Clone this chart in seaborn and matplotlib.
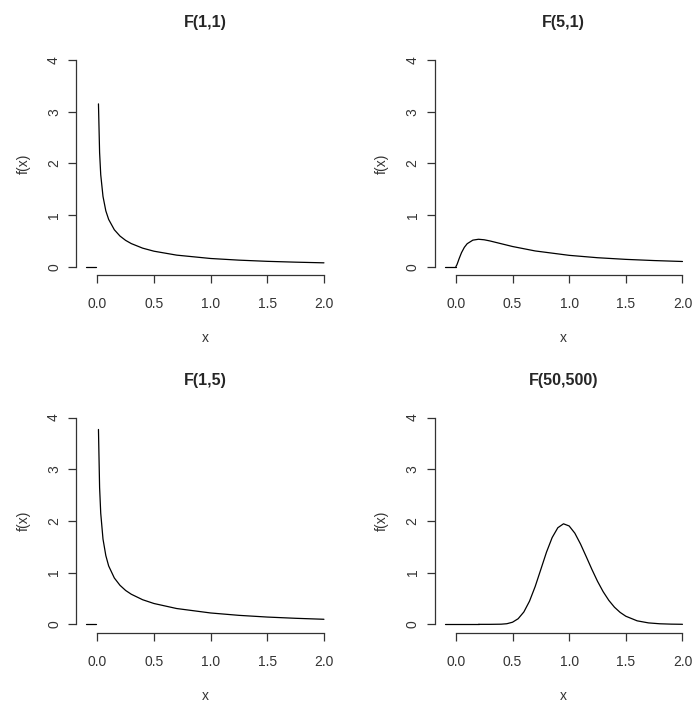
import pandas as pd
import matplotlib
matplotlib.use('Agg')
import matplotlib.pyplot as plt
import seaborn as sns

# values
titles = ['F(1,1)', 'F(5,1)', 'F(1,5)', 'F(50,500)']

x_tail = [0.01, 0.02, 0.03, 0.05, 0.075, 0.1, 0.15, 0.2, 0.25, 0.3, 0.4,
          0.5, 0.7, 1.0, 1.25, 1.5, 1.75, 2.0]
f_1_1 = [3.15, 2.21, 1.78, 1.36, 1.08, 0.915, 0.715, 0.593, 0.509, 0.447, 0.359,
         0.300, 0.224, 0.159, 0.127, 0.104, 0.088, 0.075]
f_1_5 = [3.77, 2.65, 2.15, 1.65, 1.33, 1.13, 0.897, 0.755, 0.655, 0.582, 0.476,
         0.403, 0.306, 0.220, 0.174, 0.141, 0.117, 0.098]
f_5_1 = [0.041, 0.101, 0.162, 0.272, 0.375, 0.445, 0.514, 0.531, 0.521, 0.499, 0.445,
         0.391, 0.305, 0.220, 0.174, 0.142, 0.119, 0.101]

x_bell = [0.3, 0.4, 0.45, 0.5, 0.55, 0.6, 0.65, 0.7, 0.75, 0.8, 0.85, 0.9, 0.95,
          1.0, 1.05, 1.1, 1.15, 1.2, 1.25, 1.3, 1.35, 1.4, 1.45, 1.5, 1.6, 1.7,
          1.8, 1.9, 2.0]
f_50_500 = [0.0, 0.003, 0.012, 0.041, 0.109, 0.239, 0.448, 0.731, 1.063, 1.397,
            1.679, 1.869, 1.945, 1.903, 1.764, 1.555, 1.313, 1.066, 0.834, 0.632,
            0.464, 0.331, 0.231, 0.157, 0.068, 0.028, 0.011, 0.004, 0.001]

# left piece below zero (density is 0 there)
x_left = [-0.1, -0.01]
f_left = [0.0, 0.0]


def make_df(panel):
    if panel in ('F(1,1)', 'F(1,5)'):
        ys = f_1_1 if panel == 'F(1,1)' else f_1_5
        d1 = pd.DataFrame({'x': x_left, 'y': f_left, 'seg': 0})
        d2 = pd.DataFrame({'x': x_tail, 'y': ys, 'seg': 1})
    elif panel == 'F(5,1)':
        d1 = pd.DataFrame({'x': x_left + [0.0], 'y': f_left + [0.0], 'seg': 0})
        d2 = pd.DataFrame({'x': [0.0] + x_tail, 'y': [0.0] + f_5_1, 'seg': 1})
    else:
        d1 = pd.DataFrame({'x': x_left + [0.0, 0.2], 'y': f_left + [0.0, 0.0], 'seg': 0})
        d2 = pd.DataFrame({'x': [0.2] + x_bell, 'y': [0.0] + f_50_500, 'seg': 1})
    return pd.concat([d1, d2], ignore_index=True)


sns.set_theme(style='white')
plt.rcParams['font.family'] = ['Liberation Sans', 'DejaVu Sans']

fig = plt.figure(figsize=(6.94, 7.04), dpi=100)
positions = [
    [0.1102, 0.6094, 0.3703, 0.3172],
    [0.6268, 0.6094, 0.3703, 0.3172],
    [0.1102, 0.1014, 0.3703, 0.3172],
    [0.6268, 0.1014, 0.3703, 0.3172],
]

for title, pos in zip(titles, positions):
    ax = fig.add_axes(pos)
    df = make_df(title)
    sns.lineplot(data=df, x='x', y='y', units='seg', estimator=None,
                 color='black', linewidth=0.9, sort=False, ax=ax)
    ax.set_xlim(-0.184, 2.084)
    ax.set_ylim(-0.16, 4.16)
    ax.set_xticks([0.0, 0.5, 1.0, 1.5, 2.0])
    ax.set_xticklabels(['0.0', '0.5', '1.0', '1.5', '2.0'])
    ax.set_yticks([0, 1, 2, 3, 4])
    ax.set_yticklabels(['0', '1', '2', '3', '4'], rotation=90, va='center')
    for s in ['top', 'right']:
        ax.spines[s].set_visible(False)
    for s in ['left', 'bottom']:
        ax.spines[s].set_color('#333333')
        ax.spines[s].set_linewidth(0.9)
    ax.spines['bottom'].set_bounds(0, 2)
    ax.spines['left'].set_bounds(0, 4)
    ax.tick_params(axis='both', direction='out', length=5.6, width=0.9,
                   color='#333333', labelsize=10, labelcolor='#333333',
                   bottom=True, left=True)
    ax.tick_params(axis='x', pad=10.5)
    ax.tick_params(axis='y', pad=5.5)
    ax.set_xlabel('x', fontsize=10, color='#333333', labelpad=14.5)
    ax.set_ylabel('f(x)', fontsize=10, color='#333333', labelpad=12)
    ax.set_title(title, fontsize=11.5, fontweight='bold', pad=17.5)
    ax.grid(False)

fig.savefig('out.png', dpi=100, facecolor='white')
